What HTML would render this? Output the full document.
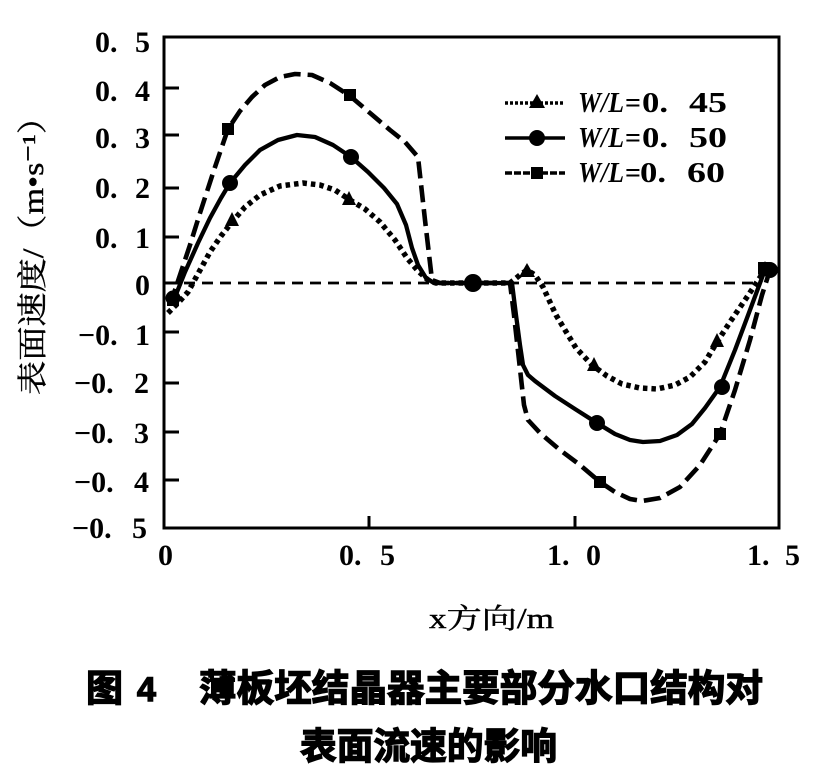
<!DOCTYPE html>
<html>
<head>
<meta charset="utf-8">
<style>
html,body{margin:0;padding:0;background:#fff;}
svg{display:block;}
.t{font-family:"Liberation Serif","Noto Serif CJK SC",serif;font-size:30px;font-weight:bold;fill:#000;}
.c{font-family:"Liberation Sans","Noto Sans CJK SC",sans-serif;font-weight:bold;fill:#000;stroke:#000;stroke-width:1.4;}
</style>
</head>
<body>
<svg width="814" height="777" viewBox="0 0 814 777" xmlns="http://www.w3.org/2000/svg">
<rect x="0" y="0" width="814" height="777" fill="#fff"/>

<!-- frame -->
<rect x="164" y="37" width="615" height="491" fill="none" stroke="#000" stroke-width="3"/>
<g stroke="#000" stroke-width="3">
<line x1="164" y1="88" x2="179" y2="88"/>
<line x1="164" y1="135" x2="179" y2="135"/>
<line x1="164" y1="188" x2="179" y2="188"/>
<line x1="164" y1="237" x2="179" y2="237"/>
<line x1="164" y1="283" x2="179" y2="283"/>
<line x1="164" y1="332" x2="179" y2="332"/>
<line x1="164" y1="383" x2="179" y2="383"/>
<line x1="164" y1="432" x2="179" y2="432"/>
<line x1="164" y1="480" x2="179" y2="480"/>
<line x1="369" y1="528" x2="369" y2="516"/>
<line x1="575" y1="528" x2="575" y2="516"/>
</g>

<!-- y tick labels -->
<g class="t">
<text x="95" y="52">0.</text><text x="135" y="52">5</text>
<text x="95" y="101">0.</text><text x="135" y="101">4</text>
<text x="95" y="148">0.</text><text x="135" y="148">3</text>
<text x="95" y="198">0.</text><text x="135" y="198">2</text>
<text x="95" y="248">0.</text><text x="135" y="248">1</text>
<text x="135" y="295">0</text>
<text x="78" y="345">−0.</text><text x="135" y="345">1</text>
<text x="74" y="393">−0.</text><text x="134" y="393">2</text>
<text x="74" y="443">−0.</text><text x="134" y="443">3</text>
<text x="74" y="492">−0.</text><text x="134" y="492">4</text>
<text x="72" y="538">−0.</text><text x="132" y="538">5</text>
</g>

<!-- x tick labels -->
<g class="t">
<text x="158" y="565">0</text>
<text x="339" y="565">0.</text><text x="380" y="565">5</text>
<text x="547" y="565">1.</text><text x="586" y="565">0</text>
<text x="747" y="565">1.</text><text x="785" y="565">5</text>
</g>

<!-- x axis title -->
<text x="429" y="628" textLength="125" lengthAdjust="spacingAndGlyphs" style="font-family:'Liberation Serif','Noto Serif CJK SC',serif;font-size:28px;fill:#000;stroke:#000;stroke-width:0.4">x方向/m</text>

<!-- y axis title -->
<text transform="translate(43,395) rotate(-90)" x="0" y="0" textLength="295" lengthAdjust="spacingAndGlyphs" style="font-family:'Liberation Serif','Noto Serif CJK SC',serif;font-size:30px;fill:#000;stroke:#000;stroke-width:0.4">表面速度/（m•s⁻¹）</text>

<!-- zero line -->
<line x1="166" y1="283" x2="756" y2="283" stroke="#000" stroke-width="2.8" stroke-dasharray="11 7"/>

<!-- W/L=0.45 dotted -->
<polyline fill="none" stroke="#000" stroke-width="5.5" stroke-dasharray="4.5 4" stroke-linejoin="round"
points="168,313 178,303 188,292 199,272 210,252 221,236 232,222 245,207 260,195 280,186 303,183 320,185 335,190 350,200 365,209 380,222 395,240 407,258 418,271 428,280 436,283 510,283 520,275 527,270 535,275 543,287 549,300 556,315 565,330 576,348 592,365 607,376 622,384 640,388 657,389 675,385 690,377 705,362 717,342 730,322 745,300 757,282 765,270"/>

<!-- W/L=0.50 solid -->
<polyline fill="none" stroke="#000" stroke-width="4.3" stroke-linejoin="round"
points="170,305 175,297 185,272 198,243 210,218 221,198 230,183 245,165 260,150 278,140 297,135 315,137 333,145 351,157 368,172 384,188 397,204 406,225 412,248 418,265 426,278 434,283 512,283 516,315 520,345 523,365 528,375 535,381 555,396 575,409 597,423 615,434 630,440 643,442 660,441 677,435 692,424 705,408 720,387 735,350 750,310 763,275 770,268"/>

<!-- W/L=0.60 dashed -->
<polyline fill="none" stroke="#000" stroke-width="4.6" stroke-dasharray="17 7" stroke-linejoin="round"
points="170,305 180,275 190,245 200,213 214,170 228,129 240,111 252,97 265,85 280,77 295,74 312,75 330,83 350,96 370,113 390,130 405,142 418,157 425,220 432,280 440,283 510,283 514,315 519,360 524,405 528,420 540,433 560,450 580,465 600,482 615,492 630,499 642,501 660,498 680,487 700,465 720,434 735,390 750,340 762,295 770,270"/>

<!-- markers -->
<g fill="#000">
<rect x="222" y="123" width="12" height="12"/>
<rect x="344" y="89" width="12" height="12"/>
<rect x="594" y="476" width="12" height="12"/>
<rect x="714" y="428" width="12" height="12"/>
<rect x="758" y="262" width="12" height="12"/>
<rect x="167" y="294" width="12" height="12"/>
<circle cx="173" cy="298" r="7.5"/>
<circle cx="230" cy="183" r="8"/>
<circle cx="351" cy="157" r="8"/>
<circle cx="473" cy="283" r="9"/>
<circle cx="597" cy="423" r="8"/>
<circle cx="722" cy="387" r="8"/>
<circle cx="770" cy="270" r="8"/>
<polygon points="232,212 225,226 239,226"/>
<polygon points="349,191 342,205 356,205"/>
<polygon points="527,263 519,277 535,277"/>
<polygon points="594,357 587,371 601,371"/>
<polygon points="717,333 710,347 724,347"/>
<polygon points="765,261 758,275 772,275"/>
</g>

<!-- legend -->
<line x1="505" y1="103" x2="565" y2="103" stroke="#000" stroke-width="3.5" stroke-dasharray="3 2"/>
<polygon points="537,94 529,108 545,108" fill="#000"/>
<line x1="505" y1="138" x2="565" y2="138" stroke="#000" stroke-width="3.5"/>
<circle cx="537" cy="138" r="8" fill="#000"/>
<line x1="505" y1="173" x2="565" y2="173" stroke="#000" stroke-width="3.5" stroke-dasharray="7 2"/>
<rect x="531" y="167" width="12" height="12" fill="#000"/>
<g class="t" style="font-size:28px">
<text x="578" y="112" font-style="italic" textLength="46" lengthAdjust="spacingAndGlyphs">W/L</text>
<text x="625" y="112">=</text><text x="642" y="112" textLength="26" lengthAdjust="spacingAndGlyphs">0.</text><text x="689" y="112" textLength="38" lengthAdjust="spacingAndGlyphs">45</text>
<text x="578" y="147" font-style="italic" textLength="46" lengthAdjust="spacingAndGlyphs">W/L</text>
<text x="625" y="147">=</text><text x="642" y="147" textLength="26" lengthAdjust="spacingAndGlyphs">0.</text><text x="689" y="147" textLength="38" lengthAdjust="spacingAndGlyphs">50</text>
<text x="578" y="182" font-style="italic" textLength="46" lengthAdjust="spacingAndGlyphs">W/L</text>
<text x="625" y="182">=</text><text x="640" y="182" textLength="26" lengthAdjust="spacingAndGlyphs">0.</text><text x="687" y="182" textLength="38" lengthAdjust="spacingAndGlyphs">60</text>
</g>

<!-- caption -->
<text class="c" x="86" y="701" style="font-size:37px">图</text>
<text class="c" x="137" y="701" style="font-size:34px">4</text>
<text class="c" x="199" y="701" textLength="564" lengthAdjust="spacingAndGlyphs" style="font-size:37px">薄板坯结晶器主要部分水口结构对</text>
<text class="c" x="300" y="759" textLength="257" lengthAdjust="spacingAndGlyphs" style="font-size:37px">表面流速的影响</text>
</svg>
</body>
</html>
